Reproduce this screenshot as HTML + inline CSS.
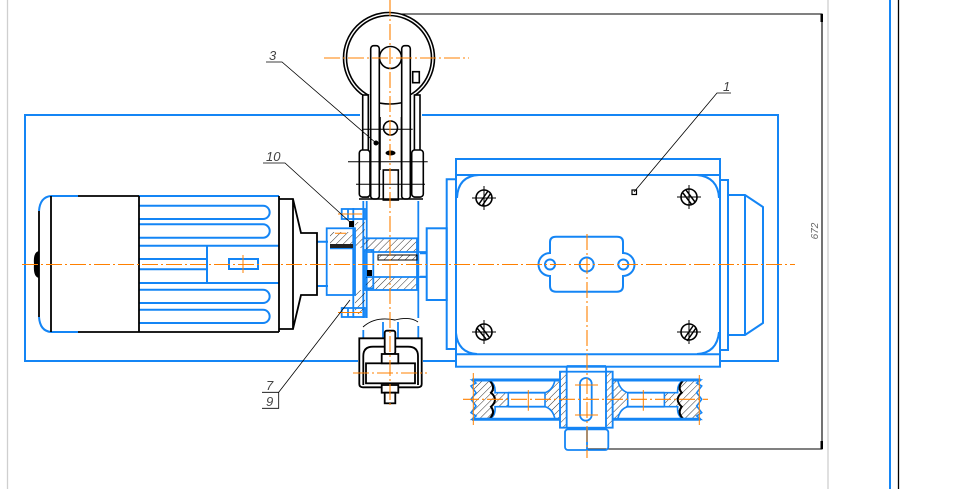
<!DOCTYPE html>
<html><head><meta charset="utf-8">
<style>html,body{margin:0;padding:0;background:#fff;}svg{display:block}</style></head>
<body>
<svg width="967" height="489" viewBox="0 0 967 489" xmlns="http://www.w3.org/2000/svg">
<defs>
<pattern id="h" width="5" height="5" patternUnits="userSpaceOnUse" patternTransform="rotate(45)">
<line x1="0" y1="0" x2="0" y2="5" stroke="#000" stroke-width="0.8"/>
</pattern>
</defs>
<rect width="967" height="489" fill="#fff"/>

<!-- sheet border lines -->
<line x1="7.5" y1="0" x2="7.5" y2="489" stroke="#cfcfcf" stroke-width="1.3"/>
<line x1="828" y1="0" x2="828" y2="489" stroke="#cfcfcf" stroke-width="1.3"/>
<line x1="890" y1="0" x2="890" y2="489" stroke="#1485f5" stroke-width="2"/>
<line x1="898.5" y1="0" x2="898.5" y2="489" stroke="#000" stroke-width="1.3"/>

<!-- base frame -->
<rect x="25" y="115" width="753" height="246" fill="none" stroke="#1485f5" stroke-width="2"/>

<!-- dimension -->
<g stroke="#000" stroke-width="1.1" fill="none">
<path d="M389,14 H822 V449 H587"/>
</g>
<rect x="820.5" y="14" width="2.5" height="8" fill="#000"/>
<rect x="820.5" y="441" width="2.5" height="8" fill="#000"/>
<text x="0" y="0" transform="translate(818,231) rotate(-90)" font-family="Liberation Sans, sans-serif" font-style="italic" font-size="10" fill="#666" text-anchor="middle">672</text>

<!-- MOTOR -->
<g fill="none" stroke="#1485f5" stroke-width="2">
<path d="M51,196 H78 M51,332 H78"/>
<path d="M51,196 Q40,197 39,211 M39,317 Q40,331 51,332"/>
<path d="M139,196 H279 M139,245.7 H279 M139,283 H279"/>
<path d="M139,205.7 H263 A6.65,6.65 0 0 1 263,219 H139"/>
<path d="M139,224.3 H263 A6.65,6.65 0 0 1 263,237.7 H139"/>
<path d="M139,289.7 H263 A6.65,6.65 0 0 1 263,303 H139"/>
<path d="M139,309.7 H263 A6.65,6.65 0 0 1 263,323 H139"/>
<path d="M139,259 H207 M139,269.3 H207 M207,245.7 V283"/>
<rect x="229" y="259" width="29" height="10"/>
<path d="M317,241.7 H328 M317,286 H328"/>
</g>
<line x1="243" y1="255" x2="243" y2="273" stroke="#ff8000" stroke-width="1"/>
<g stroke="#000" stroke-width="1.8" fill="none">
<path d="M78,196 H139 M78,332 H279 M39,211 V317 M51,196 V332 M139,196 V332 M279,196 V332"/>
<path d="M279,199 H293 L301,233 H317 V295 H301 L293,329 H279 M293,199 V329"/>
</g>
<path d="M39,251 Q33,252 34,264 Q33,277 39,278 Z" fill="#000"/>

<!-- GEARBOX -->
<rect x="456" y="159" width="264" height="207.7" fill="#fff" stroke="#1485f5" stroke-width="2"/>
<g fill="none" stroke="#1485f5" stroke-width="2">
<path d="M456,175 H720 M456,354.3 H720"/>
<path d="M457,198 Q458,176 479,175 M456,333 Q458,353 477,354 M697,175 Q718,177 719,198 M719,332 Q717,353 697,354"/>
<path d="M456,179.3 H446.7 V349 H456"/>
<rect x="426.7" y="228.3" width="20" height="71.7"/>
<path d="M420,253.3 H426.7 M420,276.7 H426.7"/>
<path d="M720,180 H728 V350 H720"/>
<path d="M728,195 H745 L763,207 V323 L745,335 H728 M745,195 V335"/>
<path d="M556,236.7 H617 Q623,236.7 623,242 V253 A11.5,11.5 0 0 1 623,276 V286 Q623,291.7 617,291.7 H556 Q550,291.7 550,286 V276 A11.5,11.5 0 0 1 550,253 V242 Q550,236.7 556,236.7 Z"/>
<circle cx="550" cy="264.5" r="5"/>
<circle cx="586.7" cy="264.5" r="7"/>
<circle cx="623.3" cy="264.5" r="5"/>
</g>
<!-- screws -->
<g stroke="#000" fill="none">
<g stroke-width="1.6">
<circle cx="484" cy="198" r="8"/><circle cx="484" cy="332" r="8"/>
<circle cx="689" cy="197" r="8"/><circle cx="689" cy="332" r="8"/>
</g>
<g stroke-width="1">
<path d="M472,198 H496 M484,186 V210 M472,332 H496 M484,320 V344 M677,197 H701 M689,185 V209 M677,332 H701 M689,320 V344"/>
</g>
<g stroke-width="1.5">
<path d="M479,204 L488,191 M482,206 L491,193"/>
<path d="M477,328 L486,339 M480,325 L489,337"/>
<path d="M683,193 L692,205 M686,190 L695,202"/>
<path d="M684,339 L693,326 M687,341 L696,328"/>
</g>
</g>
<rect x="632" y="190" width="4.5" height="4.5" fill="#fff" stroke="#000" stroke-width="1.2"/>

<!-- PULLEY -->
<g fill="url(#h)" stroke="#1485f5" stroke-width="1.6">
<path d="M472,380 H489 Q496,384 495,392.7 H508.3 V406.7 H495 Q496,416 489,419.3 H472 L476,416 L471,412.7 L476,406 L471,399.3 L476,392.7 L471,386 L476,383 Z"/>
<path d="M700.7,380 H683.7 Q676.7,384 677.7,392.7 H664.4 V406.7 H677.7 Q676.7,416 683.7,419.3 H700.7 L696.7,416 L701.7,412.7 L696.7,406 L701.7,399.3 L696.7,392.7 L701.7,386 L696.7,383 Z"/>
<path d="M545,392.7 Q553,390 555,380 H560 V419.3 H555 Q553,409 545,406.7 Z"/>
<path d="M627.7,392.7 Q619.7,390 617.7,380 H612.7 V419.3 H617.7 Q619.7,409 627.7,406.7 Z"/>
<rect x="560" y="371.7" width="6.7" height="56"/>
<rect x="606" y="371.7" width="6.7" height="56"/>
</g>
<g fill="none" stroke="#000" stroke-width="2">
<path d="M489,380 Q496,387 491,392.7 Q499,399.5 491,406.7 Q496,413 489,419.3"/>
<path d="M683.7,380 Q676.7,387 681.7,392.7 Q673.7,399.5 681.7,406.7 Q676.7,413 683.7,419.3"/>
</g>
<g fill="none" stroke="#1485f5" stroke-width="3">
<path d="M472,380 H560 M612.7,380 H700.7 M472,419.3 H560 M612.7,419.3 H700.7"/>
</g>
<g fill="none" stroke="#1485f5" stroke-width="1.8">
<path d="M508.3,392.7 H545 M508.3,406.7 H545 M627.7,392.7 H664.4 M627.7,406.7 H664.4"/>
<rect x="560" y="371.7" width="52.7" height="56"/>
<path d="M566.7,366 H606 M566.7,366 V427.7 M606,366 V427.7"/>
<rect x="580" y="378" width="11.7" height="42.7" rx="5.8"/>
<rect x="565" y="429.3" width="43.3" height="20.7" rx="3"/>
<path d="M587,429.3 V450"/>
</g>

<!-- central column -->
<g stroke="#1485f5" stroke-width="1.8" fill="none">
<path d="M363.3,197 V338 M366.7,197 V338 M418.3,197 V338"/>
</g>

<!-- COUPLING -->
<rect x="363.3" y="238.3" width="53.7" height="13.7" fill="url(#h)"/>
<rect x="363.3" y="277" width="53.7" height="13" fill="url(#h)"/>
<rect x="355" y="222" width="10" height="26" fill="url(#h)"/>
<rect x="355" y="290" width="10" height="24" fill="url(#h)"/>
<rect x="330" y="232" width="23" height="12" fill="url(#h)"/>
<g stroke="#1485f5" stroke-width="1.8" fill="none">
<rect x="326.7" y="228.3" width="28.3" height="66.7"/>
<path d="M330,248.3 H353.3 V295"/>
<path d="M353.3,208 V318"/>
<rect x="341.7" y="209" width="23.3" height="10"/>
<rect x="341.7" y="308" width="23.3" height="9"/>
<path d="M348,209 V219 M348,308 V317"/>
<rect x="363.3" y="238.3" width="53.7" height="51.7"/>
<path d="M366.7,252 H427 M366.7,277 H427"/>
<rect x="365" y="250" width="8.3" height="38.3"/>
</g>
<rect x="330" y="244" width="23" height="4" fill="#222"/>
<rect x="378" y="255" width="39" height="5" fill="url(#h)" stroke="#000" stroke-width="1"/>
<rect x="367" y="270" width="5" height="6" fill="#000"/>
<rect x="349" y="221" width="5" height="6" fill="#000"/>

<!-- ITEM 3 (upper) -->
<g stroke="#000" stroke-width="1.6">
<circle cx="389" cy="58" r="45.5" fill="#fff"/>
<circle cx="389" cy="58" r="42.5" fill="none"/>
</g>
<rect x="360" y="95" width="62" height="106" fill="#fff"/>
<g stroke="#000" stroke-width="1.6" fill="#fff">
<path d="M375,102 Q389,106 405,102" fill="none"/>
<rect x="362.7" y="95" width="5.6" height="102"/>
<rect x="414.4" y="95" width="5.6" height="102"/>
<circle cx="390.5" cy="57.5" r="11"/>
<rect x="370.7" y="45.7" width="8.6" height="153.3" rx="3"/>
<rect x="401.7" y="45.7" width="8.6" height="153.3" rx="3"/>
<path d="M380,117 V170 M401.5,117 V170" fill="none"/>
<circle cx="390.5" cy="128" r="7"/>
<rect x="383.3" y="170" width="15" height="30"/>
<rect x="359.3" y="150" width="10.7" height="47" rx="3"/>
<rect x="411.7" y="150" width="11.6" height="47" rx="3"/>
<rect x="412.7" y="71.7" width="6.6" height="11"/>
<path d="M359,199 H423" fill="none"/>
</g>
<g stroke="#000" stroke-width="1" fill="none">
<path d="M362,129.3 H412.7 M348,161.7 H427.7 M356,184.3 H425"/>
</g>
<ellipse cx="390.5" cy="153" rx="5" ry="2.5" fill="#000"/>
<circle cx="376" cy="143" r="2.5" fill="#000"/>

<!-- bottom bracket -->
<rect x="358" y="318" width="65" height="72" fill="#fff"/>
<g stroke="#1485f5" stroke-width="1.8" fill="none">
<path d="M383,322 V338 M398,322 V338 M363.3,330 V338 M418.3,326 V338"/>
</g>
<path d="M363,327 Q375,316 395,320 Q410,316 418,322" fill="none" stroke="#000" stroke-width="0.9"/>
<g stroke="#000" stroke-width="1.8" fill="#fff">
<path d="M359.3,338.3 H421.7 V384 Q421.7,387.3 418,387.3 H363 Q359.3,387.3 359.3,384 Z"/>
<path d="M363.3,385 V356 Q363.3,346.7 373,346.7 H408 Q418,346.7 418,356 V385" fill="none"/>
<rect x="366" y="363.3" width="49" height="20"/>
<rect x="384.7" y="330.7" width="10.6" height="23.3" rx="2"/>
<rect x="381.7" y="354" width="16.6" height="9.3"/>
<rect x="381.7" y="385" width="16.6" height="7.7"/>
<rect x="384.7" y="392.7" width="10.6" height="10.6"/>
</g>

<!-- CENTERLINES -->
<g stroke="#ff8000" stroke-width="1.1" fill="none" stroke-dasharray="16 3 2 3">
<path d="M22,264.5 H795"/>
<path d="M390,0 V408"/>
<path d="M324,58 H469"/>
<path d="M587,234 V458"/>
<path d="M463,399.3 H708"/>
<path d="M353,373 H427"/>
</g>
<g stroke="#ff8000" stroke-width="1" fill="none">
<path d="M473.3,373 V425 M699.3,375 V425 M528.3,390 V410.7 M643.3,390 V410.7 M575,385 H598 M575,415 H598"/>
<path d="M338,214 H362 M335,233.3 H346 M338,312.5 H362"/>
</g>

<!-- LEADERS -->
<g stroke="#000" stroke-width="0.8" fill="none">
<path d="M266,62 H282 L376,143"/>
<path d="M263,163 H285 L351,223"/>
<path d="M262,392.3 H278.7 V408.3 H262 M278.7,392.3 L350,300"/>
<path d="M634,192 L717,93 H731"/>
</g>
<g font-family="Liberation Sans, sans-serif" font-style="italic" font-size="13" fill="#444">
<text x="269" y="60">3</text>
<text x="266" y="161">10</text>
<text x="266" y="390">7</text>
<text x="266" y="406">9</text>
<text x="723" y="91">1</text>
</g>
</svg>
</body></html>
